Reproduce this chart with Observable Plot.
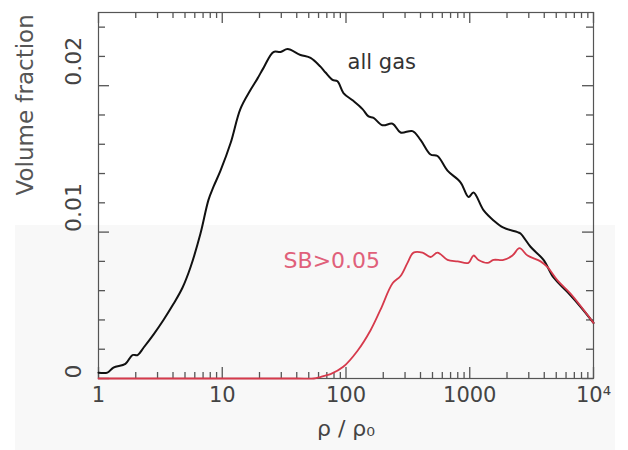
<!DOCTYPE html>
<html><head><meta charset="utf-8">
<script src="https://cdn.jsdelivr.net/npm/d3@7"></script>
<script src="https://cdn.jsdelivr.net/npm/@observablehq/plot@0.6"></script>
<style>
body{margin:0;background:#fff;}
#wrap{position:relative;width:628px;height:450px;overflow:hidden;}
#shade{position:absolute;left:15px;top:225px;width:600px;height:225px;background:#f8f8f8;}
#chart{position:absolute;left:0;top:0;}
</style></head><body>
<div id="wrap"><div id="shade"></div><div id="chart"></div></div>
<script>
// "all gas" curve
const allGasRho = [1.00,1.18,1.32,1.65,1.88,2.07,2.31,2.78,3.35,4.04,4.77,5.54,6.67,7.74,8.50,9.68,11.7,14.0,16.9,19.3,21.5,25.9,29.6,33.7,42.9,51.7,62.2,68.3,77.8,85.3,95.4,113,136,152,167,197,238,276,345,400,482,549,661,842,977,1072,1291,1556,1875,2432,2572,3097,3945,4753,6166,7855,10000];
const allGasFrac = [0.0004,0.0004,0.00075,0.001,0.0016,0.0016,0.0021,0.003,0.004,0.0051,0.0062,0.0076,0.0099,0.0122,0.0131,0.0142,0.0161,0.0184,0.0197,0.0205,0.0212,0.0223,0.0223,0.0225,0.0221,0.0219,0.0213,0.0209,0.0204,0.0203,0.0195,0.019,0.0184,0.0179,0.0178,0.0173,0.0174,0.0168,0.0169,0.0163,0.0153,0.0152,0.0142,0.0134,0.0124,0.0127,0.0115,0.0108,0.0103,0.0100,0.0099,0.009,0.0081,0.0069,0.0059,0.0049,0.0038];
// "SB>0.05" curve
const sbRho = [1,10,40,55,62,68,75,95,124,158,190,238,276,314,351,415,482,549,661,796,977,1072,1177,1391,1556,1875,2215,2524,2930,3733,4250,5117,6516,8299,10000];
const sbFrac = [0,0,0,0,0.0001,0.0002,0.0003,0.0008,0.0019,0.0033,0.0047,0.0065,0.007,0.0079,0.0086,0.0086,0.0083,0.0086,0.0081,0.008,0.0079,0.0084,0.0081,0.0079,0.0081,0.0081,0.0084,0.0089,0.0084,0.008,0.0076,0.0067,0.0058,0.0047,0.0038];

const xMajorTicks = [1,10,100,1000,10000];
const xTickLabels = ["1","10","100","1000","10\u2074"];
const xMinorTicks = [2,3,4,5,6,7,8,9,20,30,40,50,60,70,80,90,200,300,400,500,600,700,800,900,2000,3000,4000,5000,6000,7000,8000,9000];
const yMajorTicks = [0,0.01,0.02];
const yTickLabels = ["0","0.01","0.02"];
const yMinorTicks = [0.002,0.004,0.006,0.008,0.012,0.014,0.016,0.018,0.022,0.024];

const seriesLabels = ["all gas","SB>0.05"];
const labelRho = [103, 31.3];
const labelFrac = [0.0216, 0.0080];

const allGas = allGasRho.map((r,i)=>({rho:r, f:allGasFrac[i]}));
const sb = sbRho.map((r,i)=>({rho:r, f:sbFrac[i]}));

const W = 628, H = 450, ML = 98, MR = 35, MT = 12, MB = 72;
const FW = W - ML - MR, FH = H - MT - MB;
const xDom = [1, 1e4], yDom = [0, 0.025];
const axisColor = "#555";
const ff = "DejaVu Sans, sans-serif";

// inward ticks: tick length (px) converted to data units through the domains
const yLen = len => (yDom[1] - yDom[0]) * len / FH;
const xFac = len => Math.pow(xDom[1] / xDom[0], len / FW);
const xTicks = (data, len, side) => Plot.ruleX(data, {x:d=>d,
  y1: side === "bottom" ? yDom[0] : yDom[1],
  y2: side === "bottom" ? yDom[0] + yLen(len) : yDom[1] - yLen(len),
  stroke:axisColor, strokeWidth:1.3});
const yTicks = (data, len, side) => Plot.ruleY(data, {y:d=>d,
  x1: side === "left" ? xDom[0] : xDom[1],
  x2: side === "left" ? xDom[0] * xFac(len) : xDom[1] / xFac(len),
  stroke:axisColor, strokeWidth:1.3});

const plot = Plot.plot({
  width:W, height:H,
  marginLeft:ML, marginRight:MR, marginTop:MT, marginBottom:MB,
  style:{background:"transparent", fontFamily:ff, overflow:"visible"},
  x:{type:"log", domain:xDom, axis:null},
  y:{domain:yDom, axis:null},
  marks:[
    Plot.frame({stroke:axisColor, strokeWidth:1.2}),
    xTicks(xMajorTicks, 11, "bottom"),
    xTicks(xMinorTicks, 6, "bottom"),
    xTicks(xMajorTicks, 11, "top"),
    xTicks(xMinorTicks, 6, "top"),
    yTicks(yMajorTicks, 11, "left"),
    yTicks(yMinorTicks, 7, "left"),
    yTicks(yMajorTicks, 11, "right"),
    yTicks(yMinorTicks, 7, "right"),
    Plot.text(xMajorTicks, {x:d=>d, text:(d,i)=>xTickLabels[i], frameAnchor:"bottom", dy:23, fontSize:21, fill:"#444"}),
    Plot.text(yMajorTicks, {y:d=>d, text:(d,i)=>yTickLabels[i], frameAnchor:"left", dx:-25, rotate:-90, fontSize:22, fill:"#444"}),
    Plot.text(["Volume fraction"], {frameAnchor:"left", dx:-73, rotate:-90, fontSize:23, fill:"#555"}),
    Plot.text(["\u03c1 / \u03c1\u2080"], {frameAnchor:"bottom", dy:57, fontSize:22, fill:"#444"}),
    Plot.line(allGas, {x:"rho", y:"f", stroke:"#111", strokeWidth:2, curve:"catmull-rom"}),
    Plot.line(sb, {x:"rho", y:"f", stroke:"#d63a4c", strokeWidth:1.8, curve:"catmull-rom"}),
    Plot.text([0], {x:()=>labelRho[0], y:()=>labelFrac[0], text:()=>seriesLabels[0], textAnchor:"start", fontSize:21, fill:"#333"}),
    Plot.text([0], {x:()=>labelRho[1], y:()=>labelFrac[1], text:()=>seriesLabels[1], textAnchor:"start", fontSize:22, fill:"#e0607a"})
  ]
});
document.getElementById("chart").appendChild(plot);
</script>
</body></html>
